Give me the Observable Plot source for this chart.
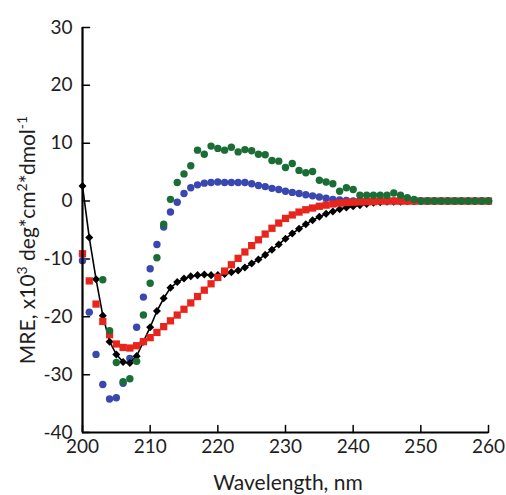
<!DOCTYPE html>
<html>
<head>
<meta charset="utf-8">
<script src="https://cdn.jsdelivr.net/npm/d3@7"></script>
<script src="https://cdn.jsdelivr.net/npm/@observablehq/plot@0.6"></script>
<style>
  html, body { margin: 0; padding: 0; background: #fff; }
  #chart svg { display: block; }
</style>
</head>
<body>
<div id="chart"></div>
<script>
// Wavelength (nm)
const wavelength = [200,201,202,203,204,205,206,207,208,209,210,211,212,213,214,215,216,217,218,219,220,
  221,222,223,224,225,226,227,228,229,230,231,232,233,234,235,236,237,238,239,240,
  241,242,243,244,245,246,247,248,249,250,251,252,253,254,255,256,257,258,259,260];

// Black diamonds with line
const blackSeries = [2.6,-6.3,-13.5,-19.8,-24.3,-26.5,-27.8,-28,-26.8,-24.3,-21.8,-19,-16.8,-15,-14,-13.4,-13,-12.8,-12.7,-12.8,-12.8,
  -12.6,-12.3,-12,-11.5,-10.8,-10.1,-9.3,-8.4,-7.5,-6.5,-5.6,-4.8,-4.0,-3.3,-2.7,-2.2,-1.8,-1.4,-1.1,-0.9,
  -0.7,-0.5,-0.3,-0.2,-0.1,-0.1,-0.1,0,0,0,0,0,0,0,0,0,0,0,0,0];

// Red squares
const redSeries = [-9.1,-13.8,-17.8,-20.8,-23.1,-24.7,-25.3,-25.4,-25,-24.3,-23.6,-22.7,-21.7,-20.7,-19.7,-18.7,-17.6,-16.5,-15.4,-14.3,-13.2,
  -12.1,-11,-9.9,-8.8,-7.7,-6.7,-5.7,-4.7,-3.8,-3.0,-2.4,-1.9,-1.5,-1.2,-0.9,-0.7,-0.5,-0.35,-0.25,-0.2,
  -0.15,-0.1,-0.1,0,0,0,0,0,0,0,0,0,0,0,0,0,0,0,0,0];

// Blue dots
const blueSeries = [-10.3,-19.2,-26.5,-31.7,-34.2,-34,-31.5,-27.2,-21.8,-16.6,-11.7,-7.5,-4.5,-1.9,-0.2,1.3,2.3,2.8,3.1,3.2,3.3,
  3.2,3.2,3.2,3.2,3.0,2.7,2.5,2.2,2.0,1.7,1.5,1.3,1.1,0.9,0.7,0.5,0.3,0.2,0.1,0,
  0,0,0,0,0,0,0,0,0,0,0,0,0,0,0,0,0,0,0,0];

// Green dots (first points hidden under the others)
const greenSeries = [null,null,null,-13.6,-22.4,-27.9,-31.2,-30.7,-27.7,-19.7,-14.2,-9.8,-4,0.3,3.2,4.7,6.1,8.8,8.1,9.5,9.1,
  8.8,9.3,8.5,8.9,8.7,8.1,8.0,7.0,6.9,5.8,6.5,5.3,4.9,5.1,3.6,3.3,3.0,1.7,2.3,2.0,
  1.0,1.0,1.0,1.0,1.0,1.4,1.0,0.6,0.3,0,0,0,0,0,0,0,0,0,0,0];

const xTicks = [200,210,220,230,240,250,260];
const yTicks = [-40,-30,-20,-10,0,10,20,30];

const colors = {black: "#000000", red: "#e8251c", blue: "#3a47b0", green: "#1a6e35"};
const textColor = "#1e1e1e";
const fontFamily = "Lato, 'Open Sans', sans-serif";

const toRows = (vals) => wavelength.map((w, i) => ({w, v: vals[i]})).filter(d => d.v != null);
const blackRows = toRows(blackSeries);
const redRows = toRows(redSeries);
const blueRows = toRows(blueSeries);
const greenRows = toRows(greenSeries);

const tickShape = { draw(context, l) { context.moveTo(0, 0); context.lineTo(0, -l); } };

const plot = Plot.plot({
  width: 506,
  height: 495,
  marginLeft: 82,
  marginRight: 18,
  marginTop: 27,
  marginBottom: 63,
  style: {fontFamily, fontSize: "19px", color: textColor, background: "#fff", overflow: "visible"},
  x: {domain: [200, 260], label: null},
  y: {domain: [-40, 30], label: null},
  marks: [
    Plot.axisX({ticks: xTicks, tickSize: 0, tickPadding: 7, tickFormat: d => String(d), label: null, fontSize: 19}),
    Plot.axisY({ticks: yTicks, tickSize: 0, tickPadding: 10, tickFormat: d => String(d), label: null, fontSize: 19}),
    Plot.vector(xTicks, {x: d => d, y: -40, length: 7, rotate: 0, anchor: "start", shape: tickShape, stroke: "#000", strokeWidth: 1.5}),
    Plot.vector(yTicks, {x: 200, y: d => d, length: 7, rotate: 90, anchor: "start", shape: tickShape, stroke: "#000", strokeWidth: 1.5}),
    Plot.dot(blueRows, {x: "w", y: "v", r: 3.7, fill: colors.blue}),
    Plot.line(blackRows, {x: "w", y: "v", stroke: colors.black, strokeWidth: 1.6}),
    Plot.dot(blackRows, {x: "w", y: "v", symbol: "square", r: 3.2, rotate: 45, fill: colors.black}),
    Plot.dot(redRows, {x: "w", y: "v", symbol: "square", r: 4.1, fill: colors.red}),
    Plot.dot(greenRows, {x: "w", y: "v", r: 3.7, fill: colors.green}),
    Plot.ruleX([200], {stroke: "#000", strokeWidth: 2.2}),
    Plot.ruleY([-40], {stroke: "#000", strokeWidth: 2.2})
  ]
});

const svg = d3.select(plot);
// Y axis title with superscripts
const yl = svg.append("text")
  .attr("transform", "translate(35,240) rotate(-90)")
  .attr("text-anchor", "middle")
  .attr("fill", textColor)
  .attr("font-family", fontFamily)
  .attr("font-size", 21);
yl.append("tspan").text("MRE, x10");
yl.append("tspan").attr("font-size", 14).attr("dy", "-0.6em").text("3");
yl.append("tspan").attr("dy", "0.4em").text(" deg*cm");
yl.append("tspan").attr("font-size", 14).attr("dy", "-0.6em").text("2");
yl.append("tspan").attr("dy", "0.4em").text("*dmol");
yl.append("tspan").attr("font-size", 14).attr("dy", "-0.6em").text("-1");

// X axis title
svg.append("text")
  .attr("x", 288)
  .attr("y", 490)
  .attr("text-anchor", "middle")
  .attr("fill", textColor)
  .attr("font-family", fontFamily)
  .attr("font-size", 21)
  .text("Wavelength, nm");

document.getElementById("chart").appendChild(plot);
</script>
</body>
</html>
